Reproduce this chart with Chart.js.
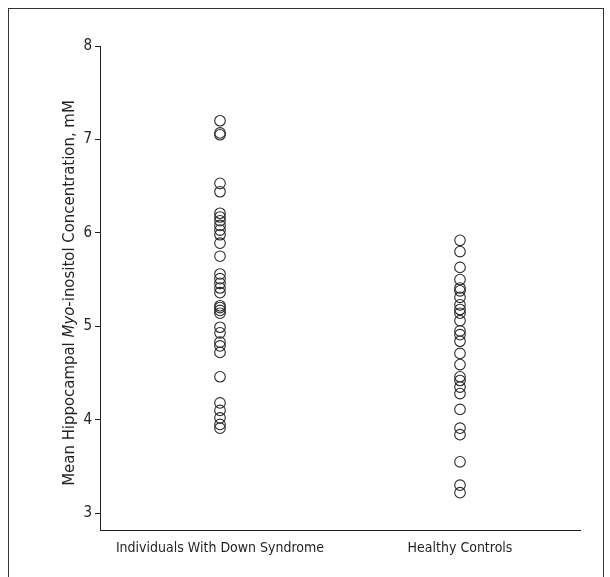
<!DOCTYPE html>
<html><head><meta charset="utf-8">
<script src="https://cdn.jsdelivr.net/npm/chart.js@4.4.1/dist/chart.umd.min.js"></script>
<style>
html,body{margin:0;padding:0;background:#fff;}
#wrap{position:relative;width:610px;height:577px;overflow:hidden;}
#frame{position:absolute;left:8px;top:8px;width:596px;height:620px;border:1px solid #333;box-sizing:border-box;}
canvas{position:absolute;left:0;top:0;}
</style></head><body>
<div id="wrap"><div id="frame"></div><canvas id="c" width="610" height="577"></canvas></div>
<script>
const categories = ['Individuals With Down Syndrome', 'Healthy Controls'];
const downSyndrome = [7.20, 7.07, 7.05, 6.53, 6.44, 6.21, 6.17, 6.13, 6.08, 6.03, 5.98, 5.89, 5.75,
  5.56, 5.51, 5.46, 5.41, 5.36, 5.22, 5.20, 5.17, 5.14, 4.99, 4.93, 4.83, 4.79, 4.72, 4.46,
  4.18, 4.10, 4.02, 3.95, 3.91];
const healthyControls = [5.92, 5.80, 5.63, 5.50, 5.41, 5.38, 5.31, 5.23, 5.18, 5.14, 5.06, 4.95,
  4.91, 4.84, 4.71, 4.59, 4.46, 4.42, 4.35, 4.28, 4.11, 3.91, 3.84, 3.55, 3.30, 3.22];
const yTicks = [3, 4, 5, 6, 7, 8];
const yTitleParts = [['Mean Hippocampal ', false], ['Myo', true], ['-inositol Concentration, mM', false]];

const FONT = "'Liberation Sans Narrow', 'Arial Narrow', 'DejaVu Sans Condensed', sans-serif";
const INK = '#231f20';

const yTitlePlugin = {
  id: 'yTitle',
  afterDraw(chart) {
    const { ctx, chartArea } = chart;
    const cx = 70, cy = (chartArea.top + chartArea.bottom) / 2 + 5;
    ctx.save();
    ctx.translate(cx, cy);
    ctx.rotate(-Math.PI / 2);
    ctx.fillStyle = INK;
    ctx.textBaseline = 'middle';
    ctx.textAlign = 'left';
    const widths = yTitleParts.map(([t, it]) => {
      ctx.font = (it ? 'italic ' : '') + '16.6px ' + FONT;
      return ctx.measureText(t).width;
    });
    let x = -widths.reduce((a, b) => a + b, 0) / 2;
    yTitleParts.forEach(([t, it], i) => {
      ctx.font = (it ? 'italic ' : '') + '16.6px ' + FONT;
      ctx.fillText(t, x, 0);
      x += widths[i];
    });
    ctx.restore();
  }
};

const pt = (arr, cat) => arr.map(v => ({ x: cat, y: v }));
const dsStyle = {
  showLine: false, pointStyle: 'circle', pointRadius: 5.3, pointHoverRadius: 5.3,
  pointBorderWidth: 1.1, pointBorderColor: '#2a2a2a', pointBackgroundColor: 'rgba(0,0,0,0)',
  borderColor: '#2a2a2a', backgroundColor: 'rgba(0,0,0,0)'
};

new Chart(document.getElementById('c'), {
  type: 'line',
  data: {
    labels: categories,
    datasets: [
      Object.assign({ label: categories[0], data: pt(downSyndrome, categories[0]) }, dsStyle),
      Object.assign({ label: categories[1], data: pt(healthyControls, categories[1]) }, dsStyle)
    ]
  },
  options: {
    responsive: false,
    animation: false,
    events: [],
    layout: { padding: { left: 0, top: 46, right: 30, bottom: 0 } },
    plugins: { legend: { display: false }, tooltip: { enabled: false } },
    scales: {
      x: {
        type: 'category',
        offset: true,
        grid: { drawOnChartArea: false, drawTicks: false },
        border: { display: true, color: INK, width: 1 },
        ticks: { color: INK, font: { family: FONT, size: 14 }, padding: 10, maxRotation: 0, autoSkip: false },
        afterFit(s) { s.height = 47; }
      },
      y: {
        min: 2.82, max: 8,
        grid: { drawOnChartArea: false, drawTicks: true, tickLength: 5, color: INK },
        border: { display: true, color: INK, width: 1 },
        ticks: { color: INK, font: { family: FONT, size: 15 }, padding: 3 },
        afterBuildTicks(s) { s.ticks = yTicks.map(v => ({ value: v })); },
        afterFit(s) { s.width = 100; }
      }
    }
  },
  plugins: [yTitlePlugin]
});
</script>
</body></html>
